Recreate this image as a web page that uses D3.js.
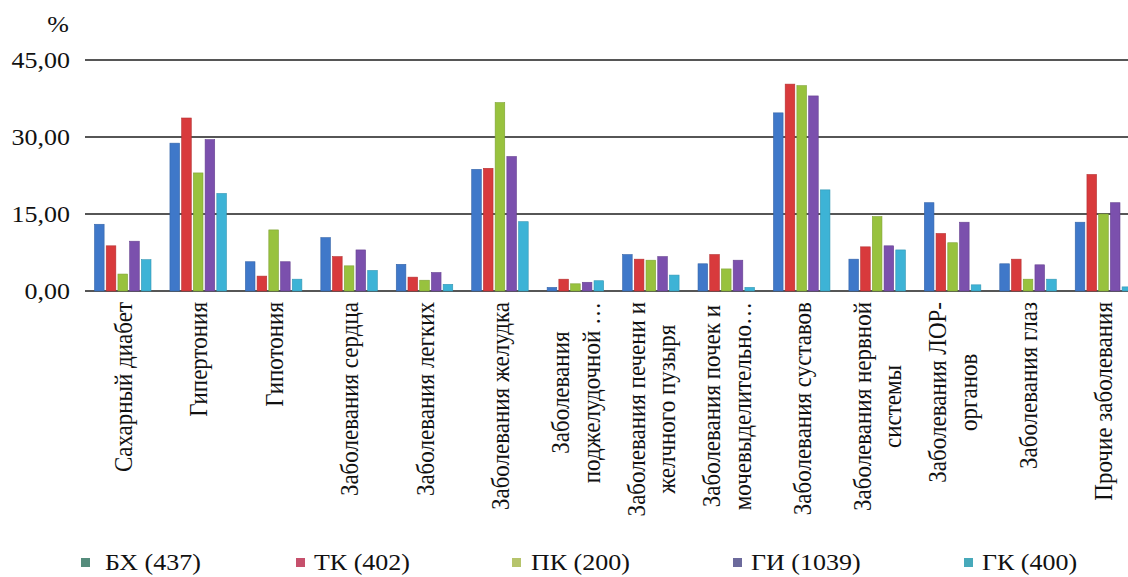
<!DOCTYPE html>
<html>
<head>
<meta charset="utf-8">
<script src="https://cdn.jsdelivr.net/npm/d3@7"></script>
<style>
  html, body { margin: 0; padding: 0; background: #fff; }
  svg text { font-family: 'Liberation Serif', 'Times New Roman', Times, serif; }
</style>
</head>
<body>
<svg id="chart" width="1128" height="577"></svg>
<script>
// Disease categories (each entry is a list of label lines)
const categories = [
  ["Сахарный диабет"],
  ["Гипертония"],
  ["Гипотония"],
  ["Заболевания сердца"],
  ["Заболевания легких"],
  ["Заболевания желудка"],
  ["Заболевания", "поджелудочной …"],
  ["Заболевания печени и", "желчного пузыря"],
  ["Заболевания почек и", "мочевыделительно…"],
  ["Заболевания суставов"],
  ["Заболевания нервной", "системы"],
  ["Заболевания ЛОР-", "органов"],
  ["Заболевания глаз"],
  ["Прочие заболевания"]
];

const seriesNames = ["БХ (437)", "ТК (402)", "ПК (200)", "ГИ (1039)", "ГК (400)"];

// Share of respondents, %
const valuesBX = [13.0, 28.8, 5.7, 10.4, 5.2, 23.7, 0.7, 7.1, 5.3, 34.7, 6.2, 17.2, 5.3, 13.4];
const valuesTK = [8.8, 33.7, 2.9, 6.7, 2.7, 23.9, 2.3, 6.2, 7.1, 40.3, 8.6, 11.2, 6.2, 22.7];
const valuesPK = [3.3, 23.0, 11.9, 4.9, 2.1, 36.7, 1.4, 6.0, 4.3, 40.0, 14.5, 9.4, 2.3, 15.0];
const valuesGI = [9.7, 29.5, 5.7, 8.0, 3.6, 26.2, 1.7, 6.7, 6.0, 38.0, 8.8, 13.4, 5.1, 17.2];
const valuesGK = [6.1, 19.0, 2.3, 4.0, 1.3, 13.5, 2.0, 3.1, 0.7, 19.7, 8.0, 1.2, 2.3, 0.8];

const yTicks = [0, 15, 30, 45];

const seriesValues = [valuesBX, valuesTK, valuesPK, valuesGI, valuesGK];
const barColors = ["#3f78c9", "#d83a3c", "#98c23e", "#7b50ad", "#3db3d6"];
const legendColors = ["#558c7c", "#c6506c", "#b6c46c", "#6c6a9c", "#47a9ba"];

const FONT = "'Liberation Serif', 'Times New Roman', Times, serif";

const svg = d3.select("#chart");
const W = 1128, H = 577;
const plotLeft = 85, step = 75.44;
const nCat = categories.length;

const x0 = d3.scaleBand()
  .domain(d3.range(nCat))
  .range([plotLeft, plotLeft + step * nCat])
  .padding(0);

const x1 = d3.scaleBand()
  .domain(d3.range(seriesNames.length))
  .range([9.5, 66])
  .paddingInner(0.18);

const y = d3.scaleLinear().domain([0, 45]).range([291, 60]);

const ru = d3.formatLocale({ decimal: ",", thousands: " ", grouping: [3], currency: ["", ""] });
const fmt = ru.format(".2f");

const sx = 1.13; // horizontal text stretch

// Gridlines and axis line
svg.append("g")
  .selectAll("line")
  .data(yTicks)
  .join("line")
  .attr("x1", plotLeft)
  .attr("x2", W)
  .attr("y1", d => y(d))
  .attr("y2", d => y(d))
  .attr("stroke", "#1e1e1e")
  .attr("stroke-width", 1.5);

// Y tick labels
svg.append("g")
  .selectAll("text")
  .data(yTicks)
  .join("text")
  .attr("transform", d => `translate(70,${y(d) + 8}) scale(${sx},1)`)
  .attr("text-anchor", "end")
  .attr("font-family", FONT)
  .attr("font-size", 23)
  .attr("fill", "#111")
  .text(d => fmt(d));

svg.append("text")
  .attr("transform", `translate(58,32) scale(${sx},1)`)
  .attr("text-anchor", "middle")
  .attr("font-family", FONT)
  .attr("font-size", 23)
  .attr("fill", "#111")
  .text("%");

// Bars
const groups = svg.append("g")
  .selectAll("g")
  .data(d3.range(nCat))
  .join("g")
  .attr("transform", i => `translate(${x0(i)},0)`);

groups.selectAll("rect")
  .data(i => seriesValues.map((vals, s) => ({ s, v: vals[i] })))
  .join("rect")
  .attr("x", d => x1(d.s))
  .attr("width", x1.bandwidth())
  .attr("y", d => y(d.v))
  .attr("height", d => y(0) - y(d.v))
  .attr("fill", d => barColors[d.s])
  .attr("stroke", d => d3.color(barColors[d.s]).darker(0.5))
  .attr("stroke-width", 0.6);

// Category labels, rotated, each line centered on the longest line
const labelTop = 302;
const lineGap = 27;
const labels = svg.append("g")
  .selectAll("g")
  .data(categories)
  .join("g");

labels.each(function (lines, i) {
  const g = d3.select(this);
  const cx = x0(i) + x0.bandwidth() / 2;
  const texts = lines.map(ln => g.append("text")
    .attr("font-family", FONT)
    .attr("font-size", 23)
    .attr("fill", "#111")
    .attr("text-anchor", "middle")
    .text(ln));
  const maxLen = d3.max(texts, t => t.node().getComputedTextLength());
  const n = lines.length;
  texts.forEach((t, k) => {
    const lx = cx + (k - (n - 1) / 2) * lineGap * sx;
    t.attr("transform",
      `translate(${lx},${labelTop + maxLen / 2}) scale(${sx},1) rotate(-90) translate(0,8)`);
  });
});

// Legend
const legendMarkX = [81, 296, 512, 733, 964];
const legendTextX = [105, 314, 531, 751, 982];
const legend = svg.append("g")
  .selectAll("g")
  .data(seriesNames)
  .join("g");

legend.append("rect")
  .attr("x", (d, i) => legendMarkX[i]).attr("y", 558)
  .attr("width", 9).attr("height", 9)
  .attr("fill", (d, i) => legendColors[i]);

legend.append("text")
  .attr("transform", (d, i) => `translate(${legendTextX[i]},570) scale(${sx},1)`)
  .attr("font-family", FONT)
  .attr("font-size", 23)
  .attr("fill", "#111")
  .text(d => d);
</script>
</body>
</html>
